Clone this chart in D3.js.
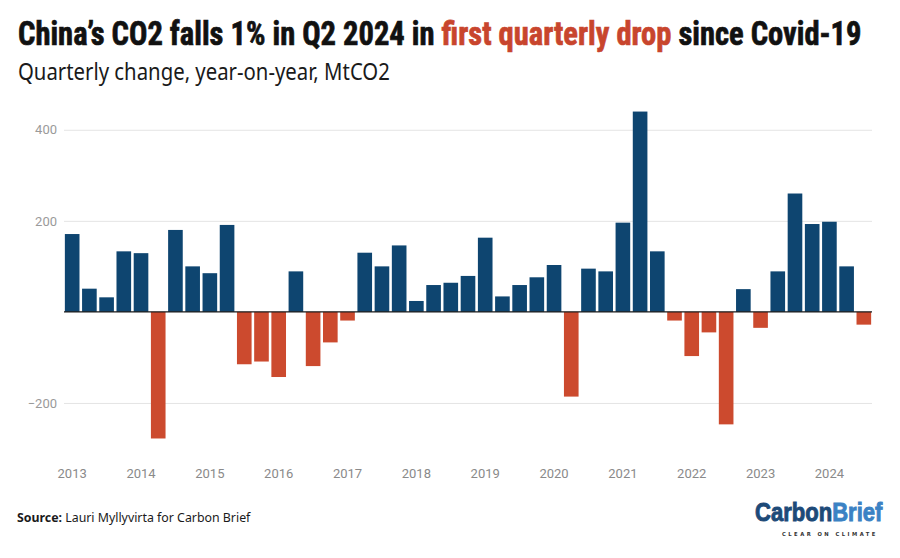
<!DOCTYPE html>
<html>
<head>
<meta charset="utf-8">
<script src="https://cdn.jsdelivr.net/npm/d3@7"></script>
<style>
  html, body { margin: 0; padding: 0; background: #fff; }
  svg { display: block; }
</style>
</head>
<body>
<div id="chart"></div>
<script>
// quarters, Q4 2012 .. Q2 2024
const quarters = [
  '2012Q4',
  '2013Q1', '2013Q2', '2013Q3', '2013Q4',
  '2014Q1', '2014Q2', '2014Q3', '2014Q4',
  '2015Q1', '2015Q2', '2015Q3', '2015Q4',
  '2016Q1', '2016Q2', '2016Q3', '2016Q4',
  '2017Q1', '2017Q2', '2017Q3', '2017Q4',
  '2018Q1', '2018Q2', '2018Q3', '2018Q4',
  '2019Q1', '2019Q2', '2019Q3', '2019Q4',
  '2020Q1', '2020Q2', '2020Q3', '2020Q4',
  '2021Q1', '2021Q2', '2021Q3', '2021Q4',
  '2022Q1', '2022Q2', '2022Q3', '2022Q4',
  '2023Q1', '2023Q2', '2023Q3', '2023Q4',
  '2024Q1', '2024Q2'
];

// year-on-year change, MtCO2
const changes = [
  171,
  51, 32, 133, 129,
  -278, 180, 100, 85,
  191, -115, -109, -143,
  89, -119, -67, -19,
  130, 100, 146, 24,
  59, 64, 79, 163,
  34, 59, 76, 103,
  -186, 95, 89, 196,
  440, 133, -19, -97,
  -45, -247, 50, -35,
  89, 260, 193, 198,
  100, -28
];

// year labels and the bar each one sits under
const yearLabels = ['2013', '2014', '2015', '2016', '2017', '2018',
  '2019', '2020', '2021', '2022', '2023', '2024'];
const yearLabelQuarters = ['2012Q4', '2013Q4', '2014Q4', '2015Q4', '2016Q4',
  '2017Q4', '2018Q4', '2019Q4', '2020Q4', '2021Q4', '2022Q4', '2023Q4'];

const yTicks = [-200, 200, 400];

const width = 900;
const height = 558;
const blue = '#0e4570';
const red = '#cc4a2e';

const data = quarters.map((q, i) => ({quarter: q, value: changes[i]}));

const svg = d3.select('#chart').append('svg')
    .attr('width', width)
    .attr('height', height);

const x = d3.scaleBand()
    .domain(quarters)
    .range([64, 872])
    .paddingInner(0.15)
    .paddingOuter(0.05);

const y = d3.scaleLinear()
    .domain([-300, 450])
    .range([448.5, 107]);

// gridlines + y labels
const yAxis = svg.append('g')
    .attr('transform', 'translate(64,0)')
    .call(d3.axisLeft(y)
        .tickValues(yTicks)
        .tickSize(-(872 - 64))
        .tickPadding(7)
        .tickFormat(d3.format('d')));
yAxis.select('.domain').remove();
yAxis.selectAll('.tick line').attr('stroke', '#e4e4e4').attr('stroke-width', 1);
yAxis.selectAll('.tick text')
    .attr('fill', '#9a9a9a')
    .attr('font-family', 'Roboto, sans-serif')
    .attr('font-size', 13);

// bars
svg.append('g').selectAll('rect')
    .data(data)
    .join('rect')
    .attr('x', (d) => x(d.quarter))
    .attr('width', x.bandwidth())
    .attr('y', (d) => y(Math.max(0, d.value)))
    .attr('height', (d) => Math.abs(y(d.value) - y(0)))
    .attr('fill', (d) => d.value < 0 ? red : blue);

// zero line
svg.append('line')
    .attr('x1', 64).attr('x2', 872)
    .attr('y1', y(0)).attr('y2', y(0))
    .attr('stroke', '#1a1a1a')
    .attr('stroke-width', 1.3);

// x axis year labels
const xAxis = svg.append('g')
    .attr('transform', 'translate(0,463)')
    .call(d3.axisBottom(x)
        .tickValues(yearLabelQuarters)
        .tickSize(0)
        .tickPadding(6)
        .tickFormat((d) => yearLabels[yearLabelQuarters.indexOf(d)]));
xAxis.select('.domain').remove();
xAxis.selectAll('.tick text')
    .attr('fill', '#8a8a8a')
    .attr('font-family', 'Roboto, sans-serif')
    .attr('font-size', 13);

// stretch/squeeze a text element horizontally to span a given width
const fitWidth = (sel, left, w) => {
  const bw = sel.node().getBBox().width;
  sel.attr('transform', `translate(${left},0) scale(${w / bw},1) translate(${-left},0)`);
};

// title
const title = svg.append('text')
    .attr('x', 18).attr('y', 45)
    .attr('font-family', '"Liberation Sans Narrow", "Roboto Condensed", sans-serif')
    .attr('font-weight', 700)
    .attr('font-size', 34)
    .attr('fill', '#111')
    .attr('stroke', '#111')
    .attr('stroke-width', 0.7);
title.append('tspan').text('China\u2019s CO2 falls 1% in Q2 2024 in ');
title.append('tspan').attr('fill', '#c8452d').attr('stroke', '#c8452d')
    .text('first quarterly drop');
title.append('tspan').text(' since Covid-19');
fitWidth(title, 18, 844);

// subtitle
const subtitle = svg.append('text')
    .attr('x', 18).attr('y', 80)
    .attr('font-family', '"Noto Sans", sans-serif')
    .attr('font-size', 23)
    .attr('fill', '#1a1a1a')
    .text('Quarterly change, year-on-year, MtCO2');
fitWidth(subtitle, 18, 372);

// source
const source = svg.append('text')
    .attr('x', 17).attr('y', 522)
    .attr('font-family', '"Noto Sans", sans-serif')
    .attr('font-size', 13)
    .attr('fill', '#1a1a1a');
source.append('tspan').attr('font-weight', 700).text('Source:');
source.append('tspan').text(' Lauri Myllyvirta for Carbon Brief');
fitWidth(source, 17, 235);

// logo
const logo = svg.append('text')
    .attr('x', 755).attr('y', 521)
    .attr('font-family', '"Liberation Sans Narrow", sans-serif')
    .attr('font-weight', 700)
    .attr('font-size', 25);
logo.append('tspan').attr('fill', '#1d4a78').attr('stroke', '#1d4a78')
    .attr('stroke-width', 0.9).text('Carbon');
logo.append('tspan').attr('fill', '#3b82c4').attr('stroke', '#3b82c4')
    .attr('stroke-width', 0.9).text('Brief');
fitWidth(logo, 755, 128);

const tagline = svg.append('text')
    .attr('x', 782).attr('y', 536)
    .attr('font-family', '"DejaVu Sans", sans-serif')
    .attr('font-weight', 700)
    .attr('font-size', 5.5)
    .attr('letter-spacing', 2.6)
    .attr('fill', '#333')
    .text('CLEAR ON CLIMATE');
fitWidth(tagline, 782, 96);
</script>
</body>
</html>
